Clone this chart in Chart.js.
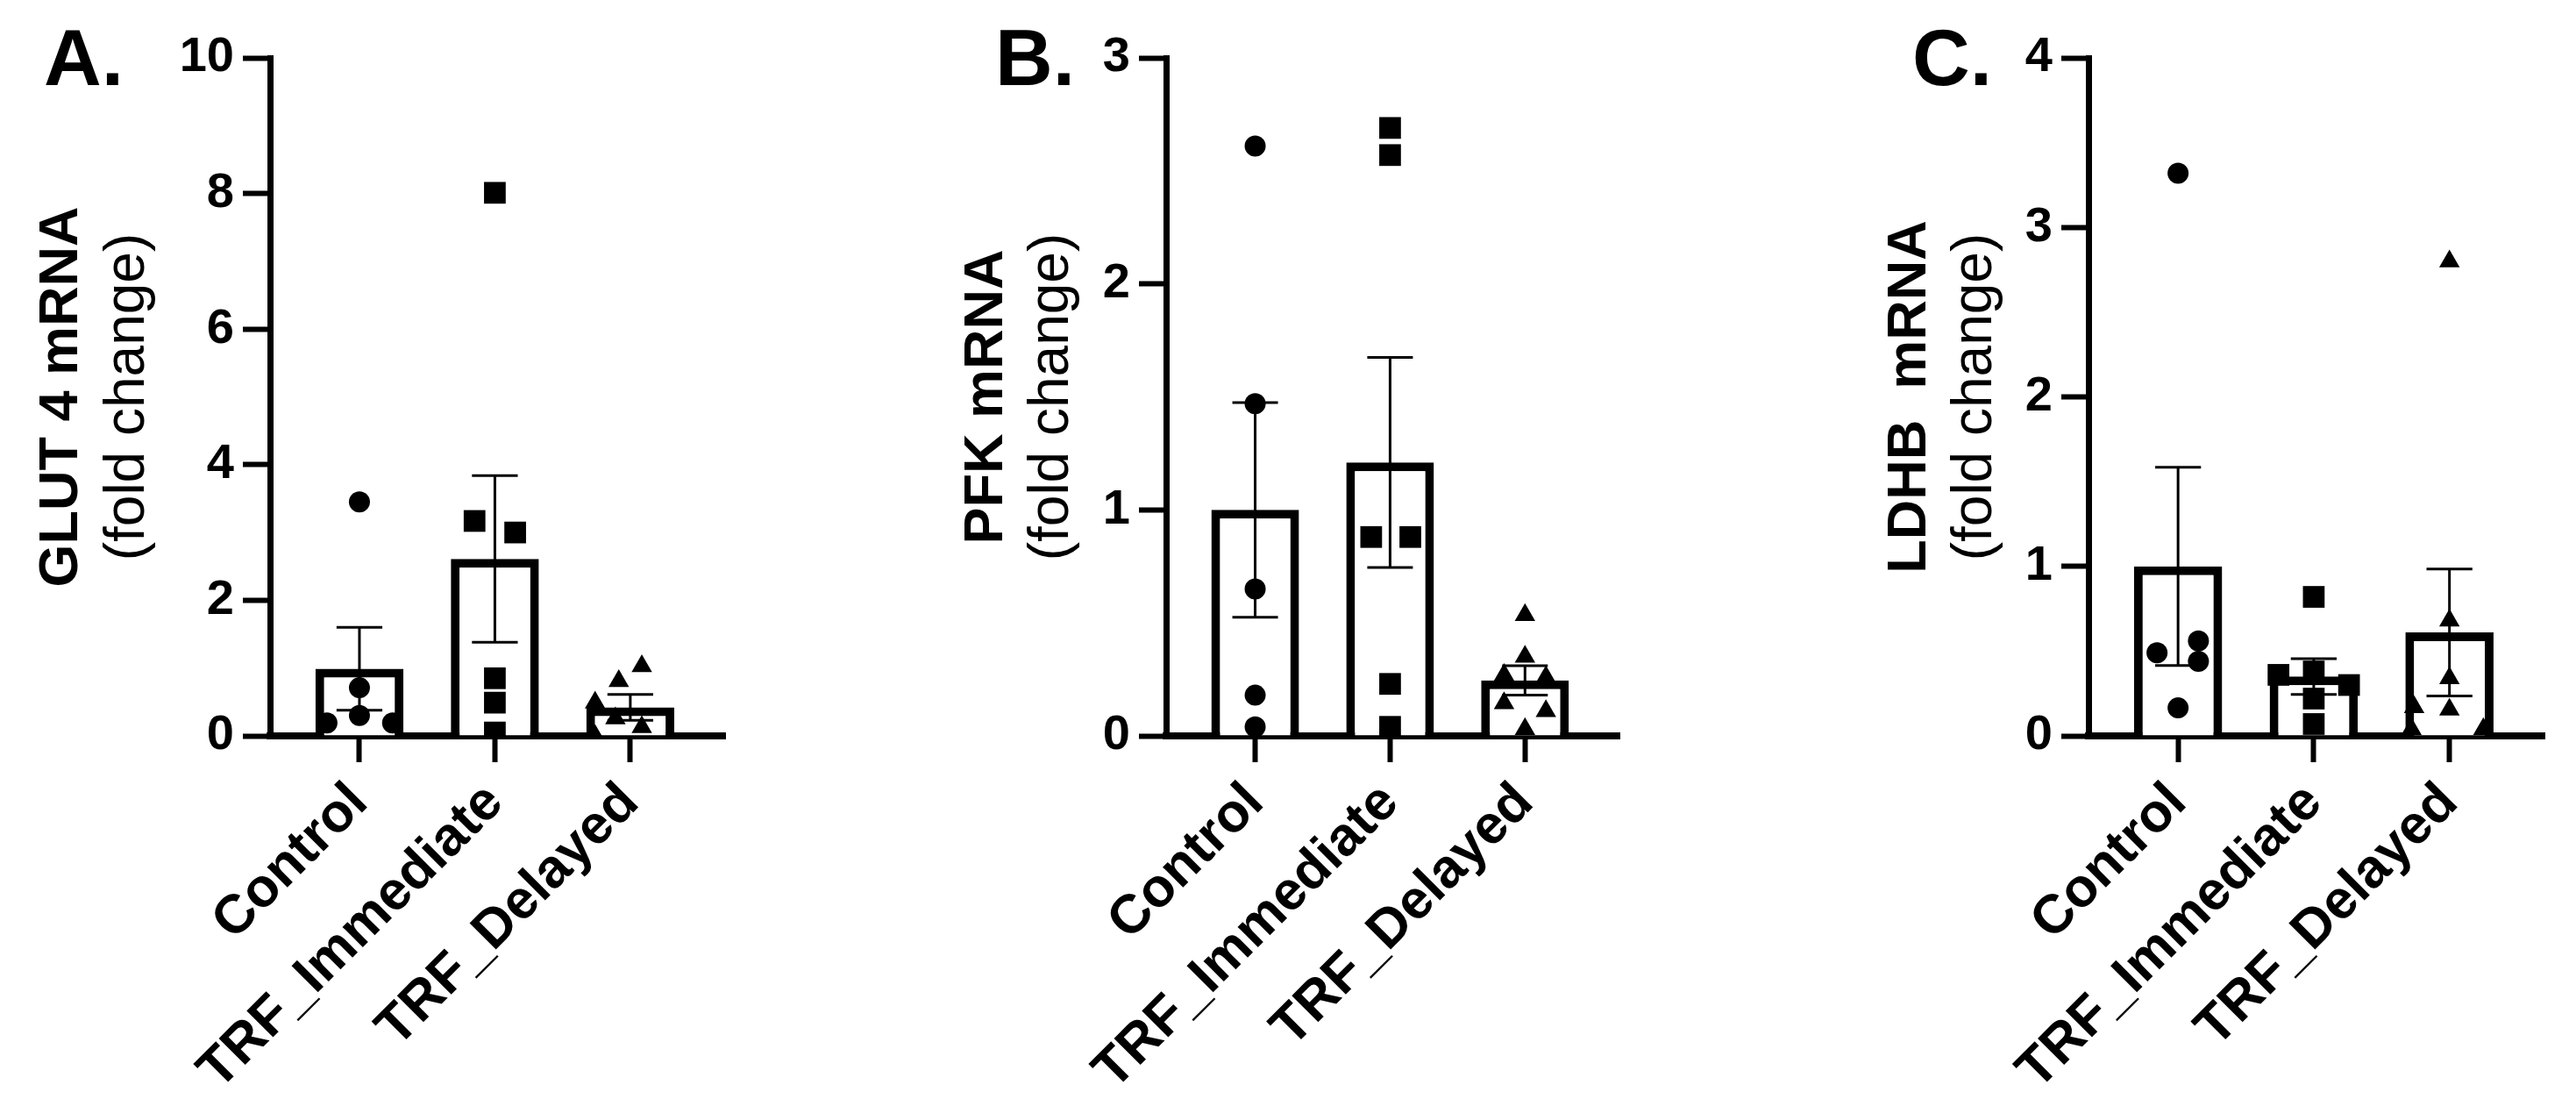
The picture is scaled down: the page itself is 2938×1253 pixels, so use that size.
<!DOCTYPE html>
<html>
<head>
<meta charset="utf-8">
<script src="https://cdn.jsdelivr.net/npm/chart.js@4.4.1/dist/chart.umd.min.js"></script>
<style>
  html, body { margin: 0; padding: 0; background: #fff; }
  #wrap { position: relative; width: 2938px; height: 1253px; }
  canvas { position: absolute; top: 0; }
</style>
</head>
<body>
<div id="wrap">
  <canvas id="chartA" width="960" height="1253" style="left:0px"></canvas>
  <canvas id="chartB" width="1000" height="1253" style="left:960px"></canvas>
  <canvas id="chartC" width="978" height="1253" style="left:1960px"></canvas>
</div>
<script>
const categories = ['Control', 'TRF_Immediate', 'TRF_Delayed'];

// A. GLUT 4
const glutTicks = [0, 2, 4, 6, 8, 10];
const glutMean = [0.99, 2.61, 0.42];
const glutSem = [0.61, 1.23, 0.19];
const glutControl = [3.45, 0.71, 0.30, 0.19, 0.19];
const glutImmediate = [8.01, 3.17, 3.0, 0.85, 0.49, 0.05];
const glutDelayed = [1.03, 0.81, 0.49, 0.26, 0.13, 0.0];
// horizontal spread of the dots, in category units
const glutSpread = [
  [0, 0, 0, -0.24, 0.245],
  [0, -0.15, 0.15, 0, 0, 0],
  [0.085, -0.085, -0.26, -0.11, 0.085, -0.26],
];

// B. PFK
const pfkTicks = [0, 1, 2, 3];
const pfkMean = [1.0, 1.21, 0.245];
const pfkSem = [0.475, 0.465, 0.065];
const pfkControl = [2.61, 1.47, 0.65, 0.18, 0.04];
const pfkImmediate = [2.69, 2.57, 0.88, 0.88, 0.23, 0.04];
const pfkDelayed = [0.535, 0.35, 0.27, 0.26, 0.145, 0.11, 0.03];
const pfkSpread = [
  [0, 0, 0, 0, 0],
  [0, 0, -0.14, 0.15, 0, 0],
  [0, 0, -0.155, 0.155, -0.155, 0.155, 0],
];

// C. LDHB
const ldhTicks = [0, 1, 2, 3, 4];
const ldhMean = [1.0, 0.35, 0.61];
const ldhSem = [0.585, 0.105, 0.375];
const ldhControl = [3.32, 0.56, 0.49, 0.44, 0.165];
const ldhImmediate = [0.82, 0.38, 0.36, 0.30, 0.22, 0.07];
const ldhDelayed = [2.8, 0.68, 0.34, 0.17, 0.155, 0.04, 0.04];
const ldhSpread = [
  [0, 0.15, -0.155, 0.15, 0],
  [0, 0, -0.26, 0.26, 0, 0],
  [0, 0, 0, -0.26, 0, -0.28, 0.25],
];

const FONT = "'Liberation Sans', Arial, Helvetica, sans-serif";
Chart.defaults.font.family = FONT;
Chart.defaults.color = '#000';

const markers = ['circle', 'rect', 'triangle'];
const markerRadius = { circle: 12, rect: 17.5, triangle: 13.5 };

// mean +/- SEM whiskers on top of the bars
const errorBars = {
  id: 'errorBars',
  afterDatasetDraw(chart, args, opts) {
    if (args.index !== 0) return;
    const ctx = chart.ctx;
    const y = chart.scales.y;
    ctx.save();
    ctx.strokeStyle = '#000';
    ctx.lineWidth = 3;
    args.meta.data.forEach((bar, i) => {
      const m = opts.mean[i];
      const s = opts.sem[i];
      const top = y.getPixelForValue(m + s);
      const bot = y.getPixelForValue(Math.max(m - s, 0));
      const half = bar.width * 0.26;
      ctx.beginPath();
      ctx.moveTo(bar.x, top);
      ctx.lineTo(bar.x, bot);
      ctx.moveTo(bar.x - half, top);
      ctx.lineTo(bar.x + half, top);
      ctx.moveTo(bar.x - half, bot);
      ctx.lineTo(bar.x + half, bot);
      ctx.stroke();
    });
    ctx.restore();
  },
};

// panel letter and the two-line y title
const panelText = {
  id: 'panelText',
  afterDraw(chart, args, opts) {
    const { ctx, chartArea } = chart;
    const x0 = chartArea.left;
    const yc = (chartArea.top + chartArea.bottom) / 2;
    ctx.save();
    ctx.fillStyle = '#000';
    ctx.textBaseline = 'alphabetic';
    ctx.textAlign = 'left';
    ctx.font = 'bold 91px ' + FONT;
    ctx.fillText(opts.letter, x0 + opts.letterX, 97);

    ctx.textAlign = 'center';
    ctx.save();
    ctx.translate(x0 + opts.boldX, yc);
    ctx.rotate(-Math.PI / 2);
    ctx.font = 'bold 63px ' + FONT;
    ctx.fillText(opts.title, 0, 0);
    ctx.restore();

    ctx.translate(x0 + opts.regX, yc);
    ctx.rotate(-Math.PI / 2);
    ctx.font = '64px ' + FONT;
    ctx.fillText('(fold change)', 0, 0);
    ctx.restore();
  },
};

function drawPanel(id, p) {
  const datasets = [
    {
      type: 'bar',
      data: p.mean.map((m, i) => ({ x: i, y: m })),
      backgroundColor: '#fff',
      borderColor: '#000',
      borderWidth: 10,
      barPercentage: 0.65,
      categoryPercentage: 1,
      order: 2,
    },
  ];
  p.groups.forEach((vals, g) => {
    datasets.push({
      type: 'scatter',
      data: vals.map((v, k) => ({ x: g + p.spread[g][k], y: v })),
      pointStyle: markers[g],
      pointRadius: markerRadius[markers[g]],
      pointBackgroundColor: '#000',
      pointBorderColor: '#000',
      pointBorderWidth: 0,
      order: 1,
    });
  });

  new Chart(document.getElementById(id), {
    type: 'bar',
    data: { datasets },
    plugins: [errorBars, panelText],
    options: {
      responsive: false,
      devicePixelRatio: 1,
      animation: false,
      events: [],
      layout: { padding: { top: 66, right: p.right, left: 0, bottom: 0 } },
      plugins: {
        legend: { display: false },
        tooltip: { enabled: false },
        errorBars: { mean: p.mean, sem: p.sem },
        panelText: p.text,
      },
      scales: {
        x: {
          type: 'linear',
          min: -0.66,
          max: 2.7,
          offset: false,
          afterBuildTicks: (s) => {
            s.ticks = categories.map((c, i) => ({ value: i }));
          },
          afterFit: (s) => {
            s.height = 1253 - 839;
          },
          border: { display: true, color: '#000', width: 8 },
          grid: {
            offset: false,
            drawOnChartArea: false,
            tickLength: 30,
            tickWidth: 6,
            tickColor: '#000',
          },
          ticks: {
            autoSkip: false,
            minRotation: 45,
            maxRotation: 45,
            padding: 10,
            color: '#000',
            font: { size: 62, weight: 'bold' },
            callback: (v) => categories[v],
          },
        },
        y: {
          min: 0,
          max: p.ticks[p.ticks.length - 1],
          afterBuildTicks: (s) => {
            s.ticks = p.ticks.map((v) => ({ value: v }));
          },
          afterFit: (s) => {
            s.width = p.left;
          },
          border: { display: true, color: '#000', width: 7 },
          grid: {
            drawOnChartArea: false,
            tickLength: 31,
            tickWidth: 6,
            tickColor: '#000',
          },
          ticks: {
            padding: 10,
            color: '#000',
            font: { size: 56, weight: 'bold' },
          },
        },
      },
    },
  });
}

drawPanel('chartA', {
  ticks: glutTicks,
  mean: glutMean,
  sem: glutSem,
  groups: [glutControl, glutImmediate, glutDelayed],
  spread: glutSpread,
  left: 308,
  right: 133,
  text: { letter: 'A.', title: 'GLUT 4 mRNA', letterX: -258, boldX: -220, regX: -144 },
});

drawPanel('chartB', {
  ticks: pfkTicks,
  mean: pfkMean,
  sem: pfkSem,
  groups: [pfkControl, pfkImmediate, pfkDelayed],
  spread: pfkSpread,
  left: 370,
  right: 113,
  text: { letter: 'B.', title: 'PFK mRNA', letterX: -195, boldX: -187, regX: -112 },
});

drawPanel('chartC', {
  ticks: ldhTicks,
  mean: ldhMean,
  sem: ldhSem,
  groups: [ldhControl, ldhImmediate, ldhDelayed],
  spread: ldhSpread,
  left: 422,
  right: 36,
  text: { letter: 'C.', title: 'LDHB  mRNA', letterX: -201, boldX: -186, regX: -111 },
});
</script>
</body>
</html>
